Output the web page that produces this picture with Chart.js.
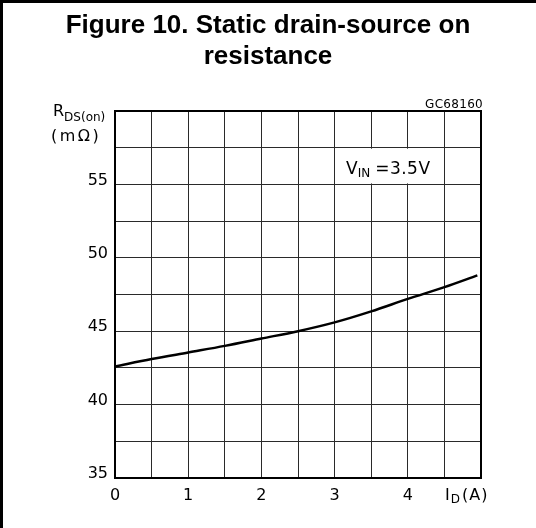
<!DOCTYPE html>
<html>
<head>
<meta charset="utf-8">
<script src="https://cdn.jsdelivr.net/npm/chart.js@4/dist/chart.umd.min.js"></script>
<style>
  html, body { margin: 0; padding: 0; background: #fff; }
  canvas { display: block; }
</style>
</head>
<body>
<canvas id="c" width="536" height="528"></canvas>
<script>
// ---- data ----
const ID_A = [0, 0.5, 1, 1.5, 2, 2.5, 3, 3.5, 4, 4.5, 4.95];
const RDS_ON = [42.6, 43.1, 43.55, 44.0, 44.5, 45.0, 45.6, 46.35, 47.2, 48.0, 48.8];
const X_TICK_LABELS = [0, 1, 2, 3, 4];
const Y_TICK_LABELS = [35, 40, 45, 50, 55];
const TITLE_LINES = ['Figure 10. Static drain-source on', 'resistance'];
const CURVE_LABEL = { main: 'V', sub: 'IN', rest: '=3.5V' };
const CODE_TEXT = 'GC68160';

const FONT = '"DejaVu Sans", sans-serif';

function drawSub(ctx, x, y, parts) {
  let cx = x;
  parts.forEach(p => {
    ctx.font = p.size + 'px ' + FONT;
    ctx.letterSpacing = (p.ls || 0) + 'px';
    ctx.fillText(p.t, cx, y + (p.dy || 0));
    cx += ctx.measureText(p.t).width + (p.gap || 0);
  });
  ctx.letterSpacing = '0px';
}

const decor = {
  id: 'decor',
  beforeDatasetsDraw(chart) {
    const { ctx, scales: { x, y } } = chart;
    ctx.save();
    const x0 = x.getPixelForValue(3), x1 = x.getPixelForValue(4.5);
    const y0 = y.getPixelForValue(57.5), y1 = y.getPixelForValue(55);
    ctx.fillStyle = '#fff';
    ctx.fillRect(x0 + 1, y0 + 1, x1 - x0 - 2, y1 - y0 - 2);
    ctx.fillStyle = '#000';
    ctx.textBaseline = 'alphabetic';
    ctx.textAlign = 'left';
    drawSub(ctx, 346, 173.5, [
      { t: CURVE_LABEL.main, size: 17 },
      { t: CURVE_LABEL.sub, size: 12, dy: 3.5, gap: 5 },
      { t: CURVE_LABEL.rest, size: 17, ls: 0.5 }
    ]);
    ctx.restore();
  },
  afterDraw(chart) {
    const { ctx, chartArea: a } = chart;
    ctx.save();
    ctx.fillStyle = '#000';
    ctx.fillRect(0, 0, 3, 528);
    ctx.fillRect(0, 0, 536, 3);
    ctx.strokeStyle = '#000';
    ctx.lineWidth = 2;
    ctx.strokeRect(a.left, a.top, a.right - a.left, a.bottom - a.top);
    ctx.fillStyle = '#000';
    ctx.textAlign = 'center';
    ctx.textBaseline = 'alphabetic';
    ctx.font = 'bold 26px "Liberation Sans", Arial, sans-serif';
    ctx.fillText(TITLE_LINES[0], 268, 33);
    ctx.fillText(TITLE_LINES[1], 268, 64);
    ctx.textAlign = 'right';
    ctx.font = '12px ' + FONT;
    ctx.letterSpacing = '0.3px';
    ctx.fillText(CODE_TEXT, 483, 107.5);
    ctx.letterSpacing = '0px';
    ctx.textAlign = 'left';
    drawSub(ctx, 53, 116, [
      { t: 'R', size: 16 },
      { t: 'DS(on)', size: 12, dy: 5 }
    ]);
    drawSub(ctx, 51, 141, [{ t: '(mΩ)', size: 16, ls: 2.5 }]);
    drawSub(ctx, 445, 499.5, [
      { t: 'I', size: 16, gap: 1 },
      { t: 'D', size: 12, dy: 3.5, gap: 2 },
      { t: '(A)', size: 16, ls: 1 }
    ]);
    ctx.restore();
  }
};

function stepTicks(min, max, step) {
  const out = [];
  for (let v = min; v <= max + 1e-9; v += step) out.push({ value: Math.round(v * 100) / 100 });
  return out;
}

new Chart(document.getElementById('c'), {
  type: 'line',
  data: {
    datasets: [{
      data: ID_A.map((v, i) => ({ x: v, y: RDS_ON[i] })),
      borderColor: '#000',
      borderWidth: 2.5,
      pointRadius: 0,
      cubicInterpolationMode: 'monotone',
      fill: false
    }]
  },
  options: {
    responsive: false,
    animation: false,
    devicePixelRatio: 1,
    layout: { padding: { top: 111, right: 55, left: 0, bottom: 0 } },
    plugins: { legend: { display: false }, tooltip: { enabled: false }, title: { display: false } },
    scales: {
      x: {
        type: 'linear', min: 0, max: 5,
        afterBuildTicks(s) { s.ticks = stepTicks(0, 5, 0.5); },
        afterFit(s) { s.height = 50; },
        ticks: {
          autoSkip: false, maxRotation: 0, minRotation: 0,
          padding: 8,
          color: '#000',
          font: { family: 'DejaVu Sans', size: 16 },
          callback(v) { return X_TICK_LABELS.includes(v) ? String(v) : ''; }
        },
        grid: { color: '#2a2a2a', lineWidth: 1, drawTicks: false },
        border: { display: false }
      },
      y: {
        type: 'linear', min: 35, max: 60,
        afterBuildTicks(s) { s.ticks = stepTicks(35, 60, 2.5); },
        afterFit(s) { s.width = 115; },
        ticks: {
          autoSkip: false,
          padding: 7,
          labelOffset: -4,
          color: '#000',
          font: { family: 'DejaVu Sans', size: 16 },
          callback(v) { return Y_TICK_LABELS.includes(v) ? String(v) : ''; }
        },
        grid: { color: '#2a2a2a', lineWidth: 1, drawTicks: false },
        border: { display: false }
      }
    }
  },
  plugins: [decor]
});
</script>
</body>
</html>
